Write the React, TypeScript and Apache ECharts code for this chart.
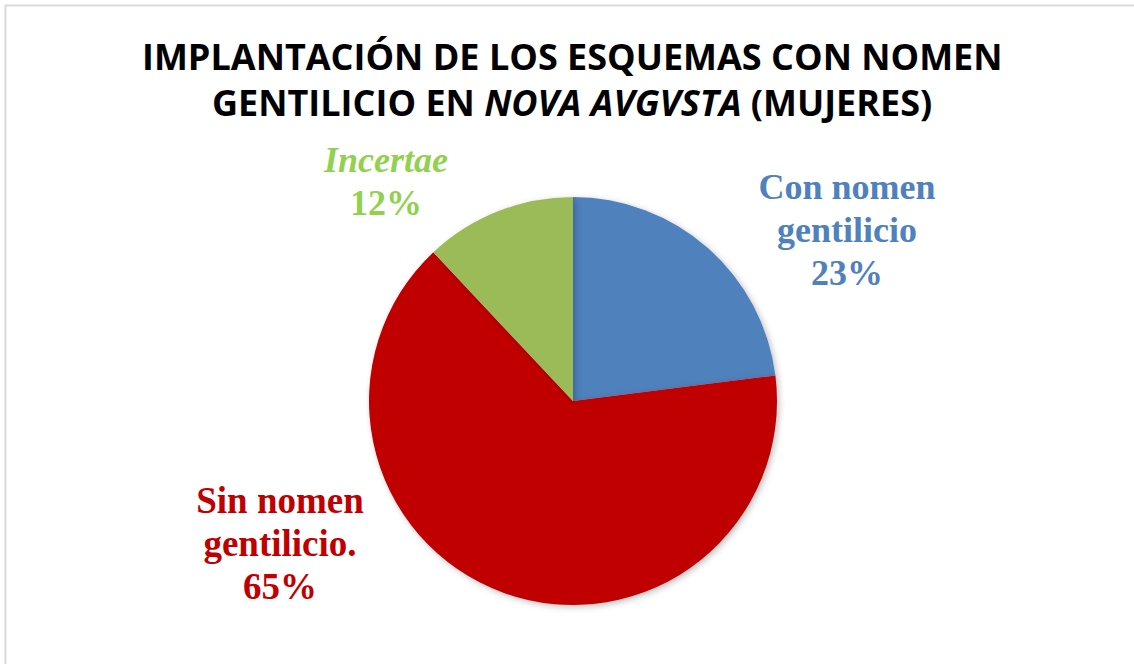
import React, { useEffect, useRef } from "react";
import * as echarts from "echarts";

const titleLine1 = "IMPLANTACIÓN DE LOS ESQUEMAS CON NOMEN";
const titleLine2 = ["GENTILICIO EN ", "NOVA AVGVSTA", " (MUJERES)"];
const categories = ["Con nomen gentilicio", "Sin nomen gentilicio.", "Incertae"];
const labelTexts = ["Con nomen\ngentilicio", "Sin nomen\ngentilicio.", "Incertae"];
const values = [23, 65, 12];
const sliceColors = ["#4F81BD", "#C00000", "#9BBB59"];
const labelColors = ["#4F81BD", "#C00000", "#92D050"];
const labelPositions = [
  { x: 847, y: 230 },
  { x: 280, y: 543 },
  { x: 386, y: 181 },
];

export default function App() {
  const ref = useRef<HTMLDivElement>(null);
  useEffect(() => {
    if (!ref.current) return;
    const chart = echarts.init(ref.current, null, { renderer: "svg" });
    const serif = "'Liberation Serif', 'Times New Roman', serif";
    const sans = "'Open Sans', sans-serif";
    const titleRich = {
      b: { fontFamily: sans, fontWeight: "bold", fontSize: 36, lineHeight: 40, color: "#000000" },
      i: {
        fontFamily: sans,
        fontWeight: "bold",
        fontStyle: "italic",
        fontSize: 36,
        lineHeight: 40,
        color: "#000000",
      },
    };
    chart.setOption({
      animation: false,
      backgroundColor: "#ffffff",
      title: [
        {
          left: 142,
          top: 36,
          padding: 0,
          text: `{b|${titleLine1}}`,
          textStyle: { rich: titleRich },
        },
        {
          left: 212,
          top: 82,
          padding: 0,
          text: `{b|${titleLine2[0]}}{i|${titleLine2[1]}}{b|${titleLine2[2]}}`,
          textStyle: { rich: titleRich },
        },
      ],
      graphic: [
        {
          type: "rect",
          shape: { x: 5.5, y: 5.5, width: 1140, height: 670 },
          style: { fill: "none", stroke: "#d9d9d9", lineWidth: 2 },
          silent: true,
        },
      ],
      series: [
        {
          type: "pie",
          center: [573, 401],
          radius: 204,
          startAngle: 90,
          clockwise: true,
          percentPrecision: 0,
          labelLine: { show: false },
          itemStyle: {
            shadowBlur: 6,
            shadowOffsetX: 2,
            shadowOffsetY: 2,
            shadowColor: "rgba(0,0,0,0.25)",
          },
          label: {
            show: true,
            position: "outside",
            fontFamily: serif,
            fontWeight: "bold",
            fontSize: 36,
            lineHeight: 43,
            align: "center",
            formatter: (p: any) => {
              const i = p.dataIndex;
              const t = labelTexts[i];
              if (i === 2) return `{it|${t}}\n{n|${p.percent}%}`;
              return `{n|${t.replace("\n", "}\n{n|")}}\n{n|${p.percent}%}`;
            },
          },
          labelLayout: (params: any) => {
            const pos = labelPositions[params.dataIndex];
            return { x: pos.x, y: pos.y, align: "center", verticalAlign: "middle", hideOverlap: false };
          },
          data: categories.map((name, i) => ({
            name,
            value: values[i],
            itemStyle: { color: sliceColors[i] },
            label: {
              color: labelColors[i],
              rich: {
                n: {
                  fontFamily: serif,
                  fontWeight: "bold",
                  fontSize: i === 1 ? 37 : 36,
                  lineHeight: 43,
                  color: labelColors[i],
                  align: "center",
                },
                it: {
                  fontFamily: serif,
                  fontWeight: "bold",
                  fontStyle: "italic",
                  fontSize: 36,
                  lineHeight: 43,
                  color: labelColors[i],
                  align: "center",
                },
              },
            },
          })),
        },
      ],
    });
    return () => chart.dispose();
  }, []);
  return (
    <div
      ref={ref}
      style={{ position: "fixed", left: 0, top: 0, width: 1134, height: 664 }}
    />
  );
}
